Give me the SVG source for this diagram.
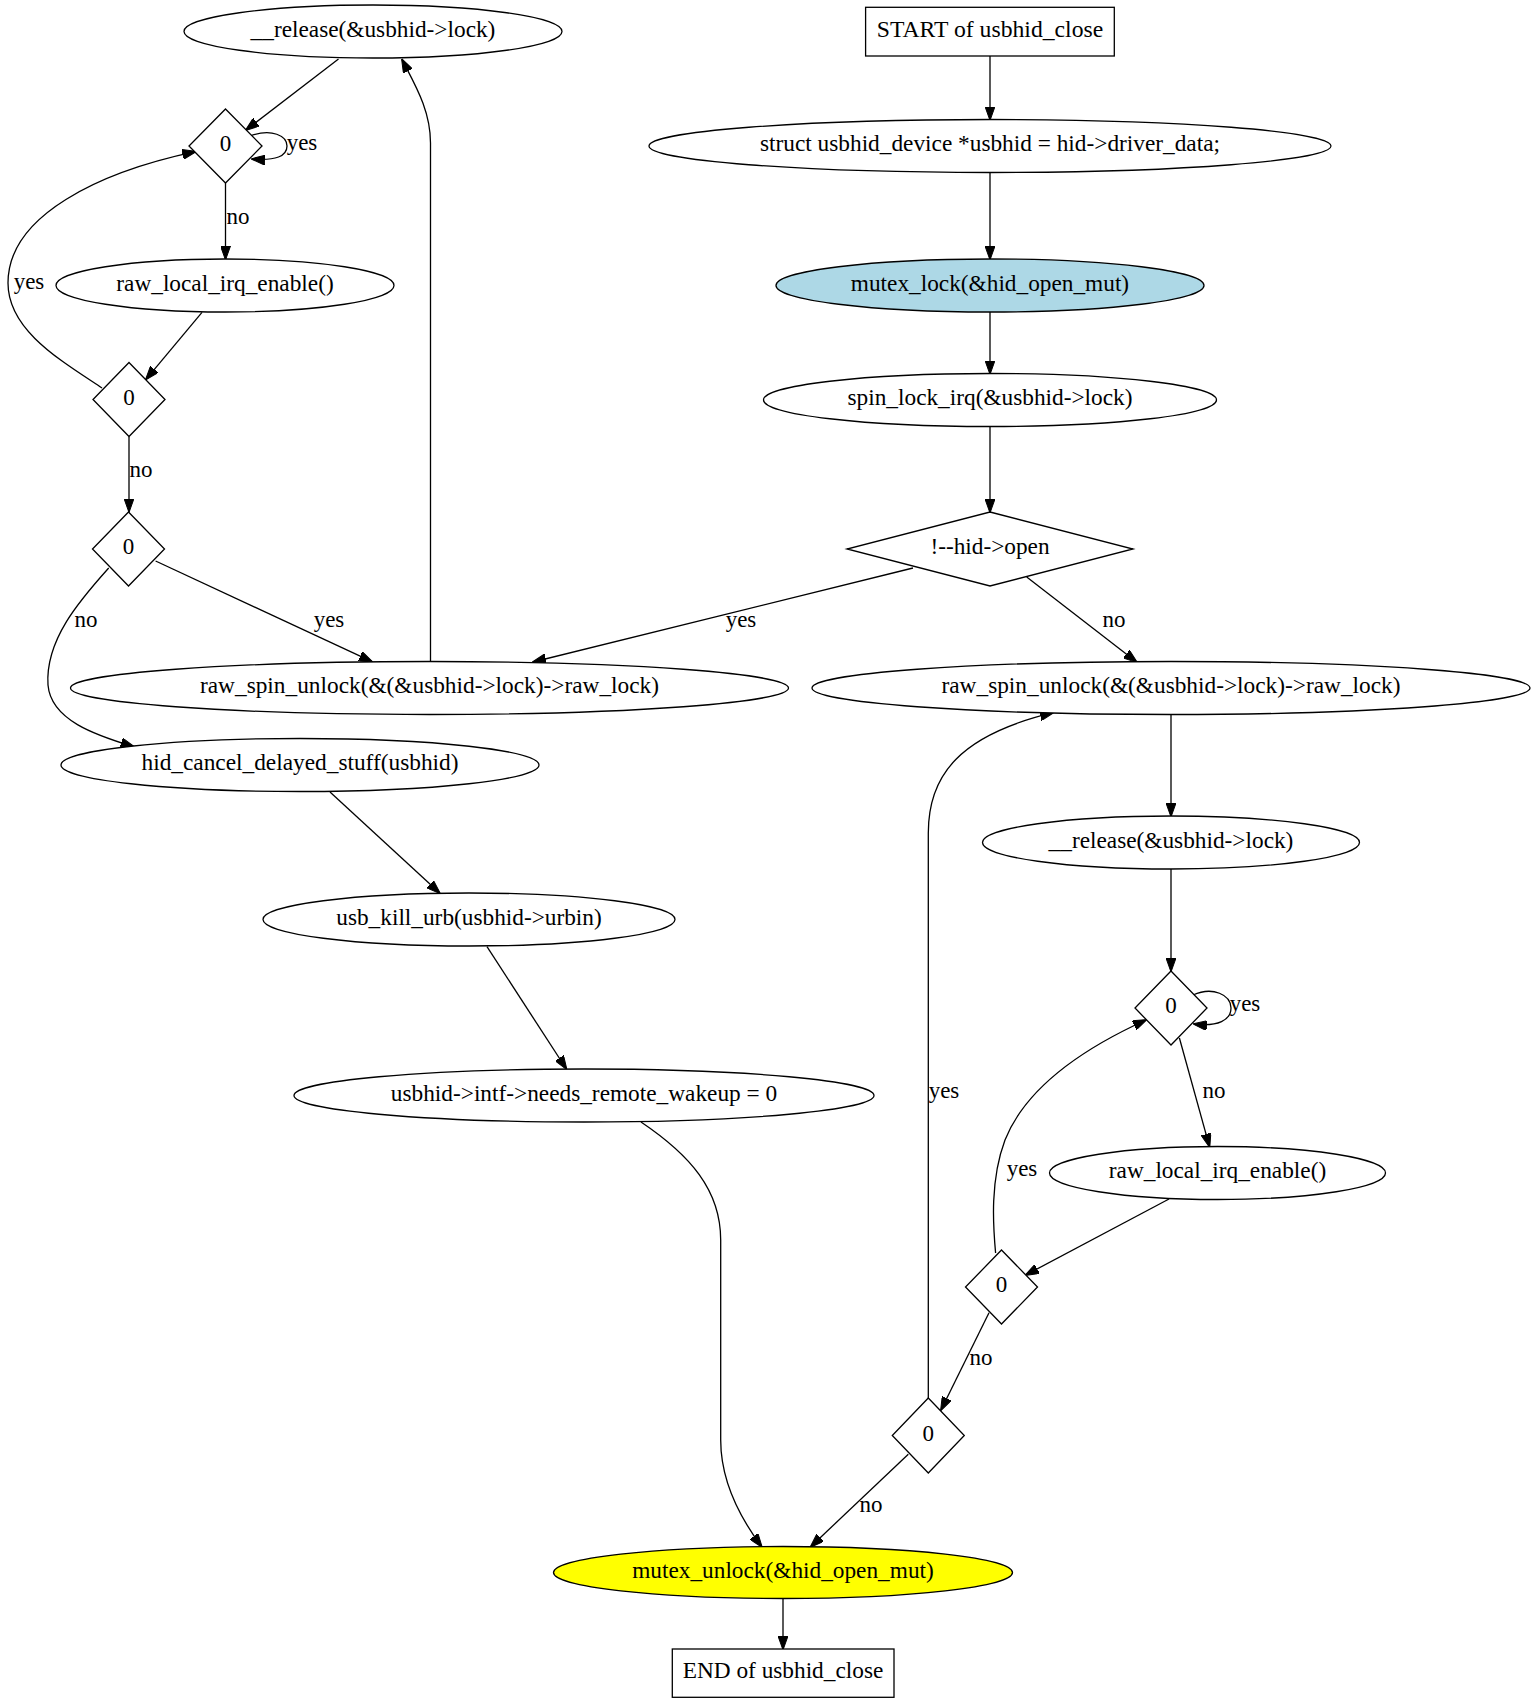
<svg xmlns="http://www.w3.org/2000/svg" width="1535" height="1707" viewBox="0 0 1535 1707">
<style>
.n ellipse,.n rect,.n polygon{fill:#fff;stroke:#000;stroke-width:1.3}
text{font-family:'Liberation Serif','Times New Roman',Tinos,'DejaVu Serif',serif;font-size:23px;fill:#000;text-anchor:middle}
.e path{fill:none;stroke:#000;stroke-width:1.3;marker-end:url(#ah)}
</style>
<defs>
<marker id="ah" viewBox="0 0 14 10" refX="13" refY="5" markerWidth="14" markerHeight="10" markerUnits="userSpaceOnUse" orient="auto">
<path d="M0,0 L14,5 L0,10 z" fill="#000" stroke="#000" stroke-width="1"/>
</marker>
</defs>
<rect width="1535" height="1707" fill="#fff"/>
<g id="edges" class="e">
<path d="M990,56 L990,119.5"/>
<path d="M990,172.5 L990,259"/>
<path d="M990,312 L990,373.5"/>
<path d="M990,426.5 L990,512"/>
<path d="M913,568 L533,662"/>
<path d="M1026.7,577 L1136.6,662"/>
<path d="M430.5,661.5 L430.5,143 C430.5,110 415,85 402,59.5"/>
<path d="M338.5,59 L246,130"/>
<path d="M250,136 C272,128 287,136 287,146 C287,156 276,161 252,159"/>
<path d="M225.5,183 L225.5,259"/>
<path d="M202,312.3 L146,379.3"/>
<path d="M102,388 C60,360 8,330 8,283 C8,215 100,172 195.4,151.7"/>
<path d="M129,436.5 L129,511.5"/>
<path d="M155.6,561 L372,661.7"/>
<path d="M108.7,568 C80,600 45,640 48,685 C51,720 95,735 133.7,746.7"/>
<path d="M330,792 L439.7,893"/>
<path d="M487,946.7 L566.4,1069"/>
<path d="M641,1122 C690,1155 720.7,1190 720.7,1240 L720.7,1440 C720.7,1480 738,1515 761.7,1546.7"/>
<path d="M908.3,1454.3 L810.7,1546.7"/>
<path d="M783,1598.5 L783,1649"/>
<path d="M1171,714.5 L1171,816"/>
<path d="M1171,869 L1171,971"/>
<path d="M1193,995 C1213,986 1231,995 1231,1008 C1231,1020 1218,1027 1194,1024"/>
<path d="M1179.4,1038 L1209.5,1146.7"/>
<path d="M1169,1199 L1025.7,1275"/>
<path d="M995.6,1253 C993,1225 990,1180 1005,1140 C1025,1090 1080,1050 1146,1020"/>
<path d="M989,1312.7 L941,1410"/>
<path d="M928.3,1398 L928.3,833 C928.3,775 960,735 1053,712.7"/>
<g id="edge-labels">
<text x="302" y="150">yes</text>
<text x="238" y="224">no</text>
<text x="29" y="289">yes</text>
<text x="141" y="477">no</text>
<text x="86" y="627">no</text>
<text x="329" y="627">yes</text>
<text x="741" y="627">yes</text>
<text x="1114" y="627">no</text>
<text x="1245" y="1011">yes</text>
<text x="1214" y="1098">no</text>
<text x="944" y="1098">yes</text>
<text x="1022" y="1176">yes</text>
<text x="981" y="1365">no</text>
<text x="871" y="1512">no</text>
</g>
</g>
<g id="start" class="n"><rect x="865.6" y="7.3" width="248.7" height="48.7"/><text x="990" y="36.5" textLength="226.5" lengthAdjust="spacingAndGlyphs">START of usbhid_close</text></g>
<g id="struct" class="n"><ellipse cx="990" cy="146" rx="341" ry="26.5"/><text x="990" y="151" textLength="460" lengthAdjust="spacingAndGlyphs">struct usbhid_device *usbhid = hid-&gt;driver_data;</text></g>
<g id="mutex_lock" class="n"><ellipse cx="990" cy="285.5" rx="214" ry="26.5" style="fill:#add8e6"/><text x="990" y="290.5" textLength="278.3" lengthAdjust="spacingAndGlyphs">mutex_lock(&amp;hid_open_mut)</text></g>
<g id="spin_lock" class="n"><ellipse cx="990" cy="400" rx="226.5" ry="26.5"/><text x="990" y="405" textLength="285" lengthAdjust="spacingAndGlyphs">spin_lock_irq(&amp;usbhid-&gt;lock)</text></g>
<g id="cond_open" class="n"><polygon points="990,512 1133,549 990,586 847,549"/><text x="990" y="554" textLength="119.2" lengthAdjust="spacingAndGlyphs">!--hid-&gt;open</text></g>
<g id="unlock_left" class="n"><ellipse cx="429.5" cy="688" rx="359" ry="26.5"/><text x="429.5" y="693" textLength="459" lengthAdjust="spacingAndGlyphs">raw_spin_unlock(&amp;(&amp;usbhid-&gt;lock)-&gt;raw_lock)</text></g>
<g id="unlock_right" class="n"><ellipse cx="1171" cy="688" rx="359" ry="26.5"/><text x="1171" y="693" textLength="459" lengthAdjust="spacingAndGlyphs">raw_spin_unlock(&amp;(&amp;usbhid-&gt;lock)-&gt;raw_lock)</text></g>
<g id="release_left" class="n"><ellipse cx="373" cy="31.5" rx="189" ry="26.5"/><text x="373" y="36.5" textLength="244.8" lengthAdjust="spacingAndGlyphs">__release(&amp;usbhid-&gt;lock)</text></g>
<g id="cond_l1" class="n"><polygon points="225.5,109 262,146 225.5,183 189,146"/><text x="225.5" y="151">0</text></g>
<g id="irq_left" class="n"><ellipse cx="225" cy="285.5" rx="169" ry="26.5"/><text x="225" y="290.5" textLength="217.4" lengthAdjust="spacingAndGlyphs">raw_local_irq_enable()</text></g>
<g id="cond_l2" class="n"><polygon points="129,362.5 165,399.5 129,436.5 93,399.5"/><text x="129" y="404.5">0</text></g>
<g id="cond_l3" class="n"><polygon points="128.5,512 164.5,549 128.5,586 92.5,549"/><text x="128.5" y="554">0</text></g>
<g id="hid_cancel" class="n"><ellipse cx="300" cy="765" rx="239" ry="26.5"/><text x="300" y="770" textLength="317" lengthAdjust="spacingAndGlyphs">hid_cancel_delayed_stuff(usbhid)</text></g>
<g id="usb_kill" class="n"><ellipse cx="469" cy="919.5" rx="206" ry="26.5"/><text x="469" y="924.5" textLength="265.5" lengthAdjust="spacingAndGlyphs">usb_kill_urb(usbhid-&gt;urbin)</text></g>
<g id="wakeup" class="n"><ellipse cx="584" cy="1095.5" rx="290" ry="26.5"/><text x="584" y="1100.5" textLength="386.3" lengthAdjust="spacingAndGlyphs">usbhid-&gt;intf-&gt;needs_remote_wakeup = 0</text></g>
<g id="release_right" class="n"><ellipse cx="1171" cy="842.5" rx="188.5" ry="26.5"/><text x="1171" y="847.5" textLength="244.8" lengthAdjust="spacingAndGlyphs">__release(&amp;usbhid-&gt;lock)</text></g>
<g id="cond_r1" class="n"><polygon points="1171,971 1207,1008 1171,1045 1135,1008"/><text x="1171" y="1013">0</text></g>
<g id="irq_right" class="n"><ellipse cx="1217.5" cy="1173" rx="168" ry="26.5"/><text x="1217.5" y="1178" textLength="217.4" lengthAdjust="spacingAndGlyphs">raw_local_irq_enable()</text></g>
<g id="cond_r2" class="n"><polygon points="1001.5,1250 1037.5,1287 1001.5,1324 965.5,1287"/><text x="1001.5" y="1292">0</text></g>
<g id="cond_r3" class="n"><polygon points="928.3,1398 964.3,1435.5 928.3,1473 892.3,1435.5"/><text x="928.3" y="1440.5">0</text></g>
<g id="mutex_unlock" class="n"><ellipse cx="783" cy="1572.5" rx="229.5" ry="26" style="fill:#ffff00"/><text x="783" y="1577.5" textLength="301.6" lengthAdjust="spacingAndGlyphs">mutex_unlock(&amp;hid_open_mut)</text></g>
<g id="end" class="n"><rect x="672.3" y="1649" width="221.7" height="48.3"/><text x="783" y="1678" textLength="200.6" lengthAdjust="spacingAndGlyphs">END of usbhid_close</text></g>
</svg>
